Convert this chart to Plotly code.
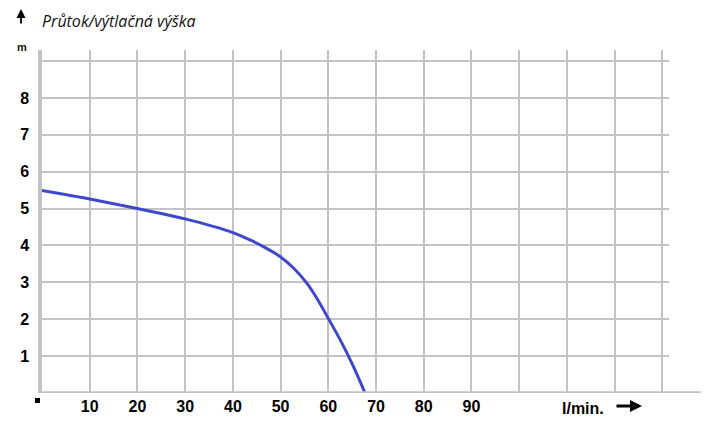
"""Pump curve: flow vs. delivery head."""
import plotly.graph_objects as go

# values
flow = [0, 10, 20, 30, 40, 43.6, 46.4, 50, 52.7, 55.5, 57.6, 60.1, 62.5, 65.3, 67.7]  # l/min
head = [5.49, 5.26, 5.0, 4.72, 4.35, 4.15, 3.97, 3.69, 3.39, 2.98, 2.57, 2.0, 1.44, 0.71, 0]  # m
x_grid = [10, 20, 30, 40, 50, 60, 70, 80, 90, 100, 110, 120, 130]
x_labels = ['10', '20', '30', '40', '50', '60', '70', '80', '90', '', '', '', '']
y_grid = [1, 2, 3, 4, 5, 6, 7, 8, 9]
y_labels = ['1', '2', '3', '4', '5', '6', '7', '8', '']

grey = '#c3c3c3'
tick_font = dict(family='Liberation Sans Narrow, Arial Narrow, Liberation Sans, sans-serif',
                 size=16, color='#000000', weight='bold')

# the page has an 8px body margin, so the figure is made 8px smaller
W, H = 710, 425
ML, MR, MT, MB = 34, 49, 42, 40
pw = W - ML - MR
ph = H - MT - MB

fig = go.Figure()
fig.add_trace(go.Scatter(
    x=flow, y=head,
    mode='lines',
    line=dict(color='#3f48cc', width=3, shape='spline', smoothing=0.8),
    hoverinfo='skip',
))

fig.update_layout(
    width=W, height=H,
    margin=dict(l=ML, r=MR, t=MT, b=MB),
    paper_bgcolor='white', plot_bgcolor='white',
    showlegend=False,
)
fig.update_xaxes(
    range=[0, 131.4],
    tickvals=x_grid, ticktext=x_labels,
    showgrid=True, gridcolor=grey, gridwidth=1.5,
    showline=False, zeroline=False,
    tickfont=tick_font, ticklabelstandoff=2,
)
fig.update_yaxes(
    range=[0, 9.3],
    tickvals=y_grid, ticktext=y_labels,
    showgrid=True, gridcolor=grey, gridwidth=1.5,
    showline=True, linecolor=grey, linewidth=3.5,
    zeroline=False,
    tickfont=tick_font, ticklabelstandoff=6,
)


def px(x):
    return x / pw


def py(y):
    return y / ph


# long bottom axis line reaching past the grid
fig.add_shape(type='line', xref='paper', yref='y',
              x0=px(-2), x1=px(659), y0=0, y1=0,
              line=dict(color=grey, width=3.5))
# little corner mark at the origin
fig.add_shape(type='rect', xref='paper', yref='paper',
              x0=px(-7), x1=px(-2), y0=py(-10), y1=py(-5),
              fillcolor='black', line=dict(width=0))

# title with up arrow
fig.add_annotation(text='<i>Průtok/výtlačná výška</i>', xref='paper', yref='paper',
                   x=px(-2), y=py(372), xanchor='left', yanchor='middle', showarrow=False,
                   font=dict(family='Open Sans, Noto Sans, sans-serif', size=16, color='#111111'))
fig.add_annotation(text='', xref='paper', yref='paper',
                   x=px(-21), y=py(386), ax=0, ay=18,
                   showarrow=True, arrowhead=2, arrowsize=1, arrowwidth=1.8, arrowcolor='black')
fig.add_annotation(text='<b>m</b>', xref='paper', yref='paper',
                   x=px(-20), y=py(346), xanchor='center', yanchor='middle', showarrow=False,
                   font=dict(family='Liberation Sans, Arial, sans-serif', size=11, color='#111111'))

# unit label with right arrow
fig.add_annotation(text='<b>l/min.</b>', xref='paper', yref='paper',
                   x=px(541), y=py(-15), xanchor='center', yanchor='middle', showarrow=False,
                   font=tick_font)
fig.add_annotation(text='', xref='paper', yref='paper',
                   x=px(600), y=py(-13), ax=-27, ay=0,
                   showarrow=True, arrowhead=2, arrowsize=0.8, arrowwidth=3, arrowcolor='black')

fig.write_html("out.html")
